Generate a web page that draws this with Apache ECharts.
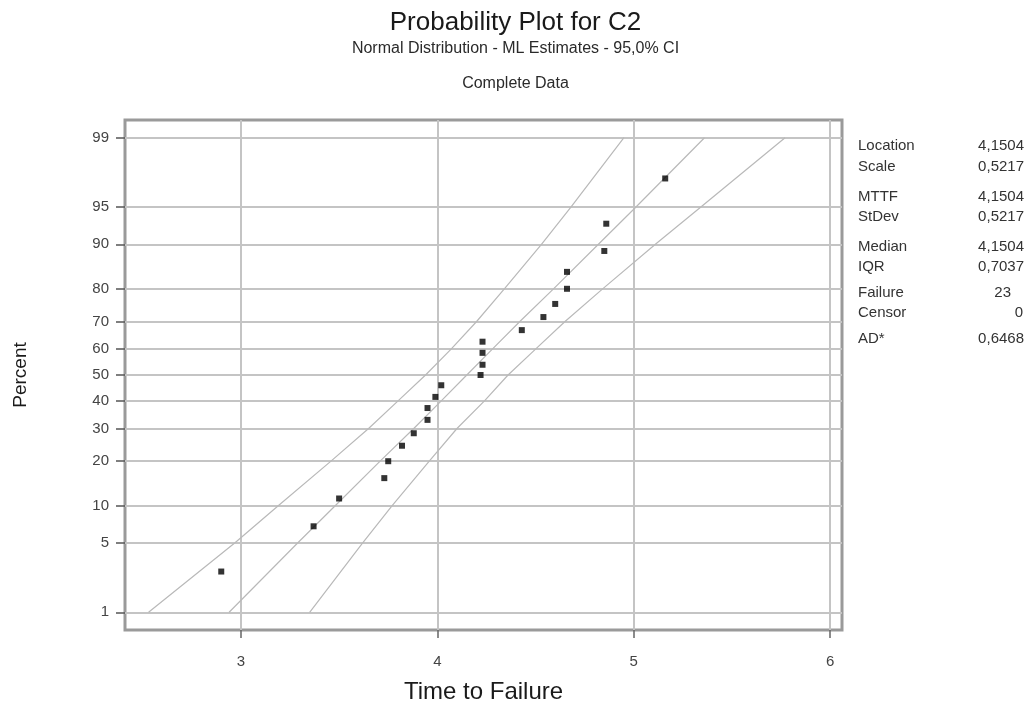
<!DOCTYPE html>
<html>
<head>
<meta charset="utf-8">
<title>Probability Plot for C2</title>
<script src="https://cdn.jsdelivr.net/npm/echarts@6/dist/echarts.min.js"></script>
<style>
html, body { margin: 0; padding: 0; background: #fff; }
#chart { width: 1031px; height: 711px; }
</style>
</head>
<body>
<div id="chart"></div>
<script>
// failure times and their plotted percent
var failTimes = [2.90, 3.37, 3.50, 3.73, 3.75, 3.82, 3.88, 3.95, 3.95, 3.99, 4.02, 4.22,
                 4.23, 4.23, 4.23, 4.43, 4.54, 4.60, 4.66, 4.66, 4.85, 4.86, 5.16];
var failPct = [2.7, 6.9, 11.3, 15.6, 19.9, 24.4, 28.4, 33.0, 37.3, 41.5, 46.0, 50.0,
               54.0, 58.6, 62.8, 67.0, 71.5, 75.7, 80.1, 84.4, 88.8, 93.1, 97.3];

// percent levels of the probability scale, and the fit / CI curves at those levels
var pctTicks = [1, 5, 10, 20, 30, 40, 50, 60, 70, 80, 90, 95, 99];
var fitLine = [2.94, 3.29, 3.48, 3.71, 3.88, 4.02, 4.15, 4.28, 4.42, 4.59, 4.82, 5.01, 5.36];
var lowerCI = [2.53, 2.97, 3.19, 3.46, 3.65, 3.80, 3.94, 4.07, 4.20, 4.34, 4.53, 4.68, 4.95];
var upperCI = [3.35, 3.62, 3.77, 3.96, 4.10, 4.24, 4.36, 4.50, 4.65, 4.84, 5.11, 5.34, 5.77];

var timeTicks = [3, 4, 5, 6];

var statNames = ['Location', 'Scale', 'MTTF', 'StDev', 'Median', 'IQR', 'Failure', 'Censor', 'AD*'];
var statValues = ['4,1504', '0,5217', '4,1504', '0,5217', '4,1504', '0,7037', '23', '0', '0,6468'];

var FONT = '"Liberation Sans", Arial, sans-serif';

// inverse of the standard normal cdf (Acklam), used for the probability axis
function normInv(p) {
    var a = [-3.969683028665376e+01, 2.209460984245205e+02, -2.759285104469687e+02,
             1.383577518672690e+02, -3.066479806614716e+01, 2.506628277459239e+00];
    var b = [-5.447609879822406e+01, 1.615858368580409e+02, -1.556989798598866e+02,
             6.680131188771972e+01, -1.328068155288572e+01];
    var c = [-7.784894002430293e-03, -3.223964580411365e-01, -2.400758277161838e+00,
             -2.549732539343734e+00, 4.374664141464968e+00, 2.938163982698783e+00];
    var d = [7.784695709041462e-03, 3.224671290700398e-01, 2.445134137142996e+00,
             3.754408661907416e+00];
    var pl = 0.02425, q, r;
    if (p < pl) {
        q = Math.sqrt(-2 * Math.log(p));
        return (((((c[0]*q+c[1])*q+c[2])*q+c[3])*q+c[4])*q+c[5]) / ((((d[0]*q+d[1])*q+d[2])*q+d[3])*q+1);
    }
    if (p > 1 - pl) {
        q = Math.sqrt(-2 * Math.log(1 - p));
        return -(((((c[0]*q+c[1])*q+c[2])*q+c[3])*q+c[4])*q+c[5]) / ((((d[0]*q+d[1])*q+d[2])*q+d[3])*q+1);
    }
    q = p - 0.5;
    r = q * q;
    return (((((a[0]*r+a[1])*r+a[2])*r+a[3])*r+a[4])*r+a[5])*q / (((((b[0]*r+b[1])*r+b[2])*r+b[3])*r+b[4])*r+1);
}
function toZ(pct) { return normInv(pct / 100); }

var zTicks = pctTicks.map(toZ);

function curve(xs) {
    return xs.map(function (x, i) { return [x, zTicks[i]]; });
}

var chart = echarts.init(document.getElementById('chart'));

// stats panel on the right
var statY = [146, 167, 197, 217, 247, 267, 293, 313, 339];
var statRight = [1024, 1024, 1024, 1024, 1024, 1024, 1011, 1023, 1024];
var statGraphics = [];
statNames.forEach(function (name, i) {
    statGraphics.push({
        type: 'text', x: 858, y: statY[i],
        style: { text: name, fill: '#333', font: '15px ' + FONT, align: 'left', verticalAlign: 'middle' }
    });
    statGraphics.push({
        type: 'text', x: statRight[i], y: statY[i],
        style: { text: statValues[i], fill: '#333', font: '15px ' + FONT, align: 'right', verticalAlign: 'middle' }
    });
});

var ciLine = { color: '#b9b9b9', width: 1.2 };

var option = {
    backgroundColor: '#fff',
    animation: false,
    textStyle: { fontFamily: FONT },
    title: [{
        text: 'Probability Plot for C2',
        left: 'center', top: 10, padding: 0,
        textStyle: { fontSize: 26, fontWeight: 'normal', color: '#1a1a1a', fontFamily: FONT }
    }, {
        text: 'Normal Distribution - ML Estimates - 95,0% CI',
        left: 'center', top: 41, padding: 0,
        textStyle: { fontSize: 16, fontWeight: 'normal', color: '#2a2a2a', fontFamily: FONT }
    }, {
        text: 'Complete Data',
        left: 'center', top: 76, padding: 0,
        textStyle: { fontSize: 16, fontWeight: 'normal', color: '#2a2a2a', fontFamily: FONT }
    }],
    grid: {
        left: 125, top: 120, right: 189, bottom: 81,
        show: true, borderColor: '#9a9a9a', borderWidth: 3
    },
    xAxis: {
        type: 'value',
        min: 2.41, max: 6.06,
        name: 'Time to Failure',
        nameLocation: 'middle',
        nameGap: 50,
        nameTextStyle: { fontSize: 24, color: '#1a1a1a', fontFamily: FONT },
        axisLine: { show: false, onZero: false },
        axisTick: { show: true, customValues: timeTicks, length: 8, lineStyle: { color: '#666', width: 1.5 } },
        axisLabel: { customValues: timeTicks, margin: 24, fontSize: 15, color: '#444', fontFamily: FONT },
        splitLine: { show: true, lineStyle: { color: '#c4c4c4', width: 2 } }
    },
    yAxis: {
        type: 'value',
        min: -2.5, max: 2.5,
        name: 'Percent',
        nameLocation: 'middle',
        nameGap: 95,
        nameTextStyle: { fontSize: 19, color: '#1a1a1a', fontFamily: FONT },
        axisLine: { show: false, onZero: false },
        axisTick: { show: true, customValues: zTicks, length: 9, lineStyle: { color: '#555', width: 1.5 } },
        axisLabel: {
            customValues: zTicks, margin: 16, fontSize: 15, color: '#444', fontFamily: FONT,
            formatter: function (v) {
                for (var i = 0; i < zTicks.length; i++) {
                    if (Math.abs(zTicks[i] - v) < 1e-6) return String(pctTicks[i]);
                }
                return '';
            }
        },
        splitLine: { show: true, lineStyle: { color: '#c4c4c4', width: 2 } }
    },
    graphic: statGraphics,
    series: [{
        name: 'Lower CI', type: 'line', data: curve(lowerCI),
        showSymbol: false, lineStyle: ciLine, z: 3
    }, {
        name: 'Fit', type: 'line', data: curve(fitLine),
        showSymbol: false, lineStyle: ciLine, z: 3
    }, {
        name: 'Upper CI', type: 'line', data: curve(upperCI),
        showSymbol: false, lineStyle: ciLine, z: 3
    }, {
        name: 'C2', type: 'scatter',
        data: failTimes.map(function (t, i) { return [t, toZ(failPct[i])]; }),
        symbol: 'rect', symbolSize: 6,
        itemStyle: { color: '#000' }, z: 5
    }]
};
chart.setOption(option);
</script>
</body>
</html>
